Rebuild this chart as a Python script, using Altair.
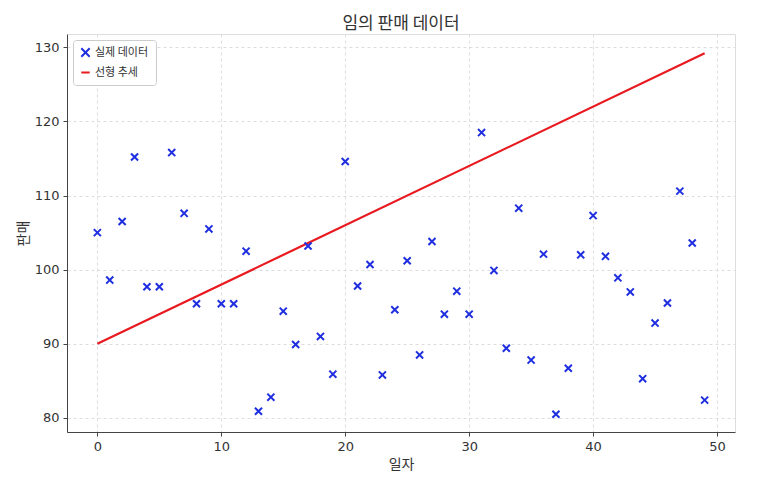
import altair as alt
import pandas as pd

# data
x_vals = list(range(50))
y_vals = [105.0, 98.6, 106.5, 115.2, 97.7, 97.7, 115.8, 107.6, 95.4, 105.5,
          95.4, 95.4, 102.5, 80.9, 82.8, 94.4, 89.9, 103.2, 91.0, 85.9,
          114.6, 97.8, 100.7, 85.8, 94.6, 101.2, 88.5, 103.8, 94.0, 97.1,
          94.0, 118.5, 99.9, 89.4, 108.3, 87.8, 102.1, 80.5, 86.7, 102.0,
          107.3, 101.8, 98.9, 97.0, 85.3, 92.8, 95.5, 110.6, 103.6, 82.4]
trend_x = [0, 49]
trend_y = [90.0, 129.2]

title_text = "임의 판매 데이터"
series_points = "실제 데이터"
series_line = "선형 추세"
x_title = "일자"
y_title = "판매"

pts = pd.DataFrame({"x": x_vals, "y": y_vals, "series": series_points})
line = pd.DataFrame({"x": trend_x, "y": trend_y, "series": series_line})

KFONT = "Noto Sans CJK KR"
x_scale = alt.Scale(domain=[-2.45, 51.45], nice=False, zero=False)
y_scale = alt.Scale(domain=[78.1, 131.8], nice=False, zero=False)
color_scale = alt.Scale(domain=[series_points, series_line], range=["#1f2fe0", "#e8191f"])
shape_scale = alt.Scale(domain=[series_points, series_line],
                        range=["M-1,-1L1,1M1,-1L-1,1", "stroke"])

xax = alt.Axis(title=x_title, values=[0, 10, 20, 30, 40, 50], grid=True,
               gridDash=[3, 3], gridColor="#dddddd", domainColor="#444444",
               tickColor="#444444", tickSize=4, labelFontSize=13,
               labelColor="#333333", titleFont=KFONT, titleFontSize=14,
               titleFontWeight="normal", titleColor="#333333", labelFont="DejaVu Sans",
               titlePadding=4, labelPadding=4)
yax = alt.Axis(title=y_title, values=[80, 90, 100, 110, 120, 130], grid=True,
               gridDash=[3, 3], gridColor="#dddddd", domainColor="#444444",
               tickColor="#444444", tickSize=4, labelFontSize=13,
               labelColor="#333333", titleFont=KFONT, titleFontSize=14,
               titleFontWeight="normal", titleColor="#333333", labelFont="DejaVu Sans",
               titlePadding=4, labelPadding=4)

legend = alt.Legend(title=None, orient="top-left", fillColor="white",
                    strokeColor="#cccccc", cornerRadius=3, padding=7,
                    labelFont=KFONT, labelFontSize=11, labelColor="#333333",
                    symbolSize=70, symbolStrokeWidth=2, offset=6, rowPadding=5)

points = alt.Chart(pts).mark_point(filled=False, strokeWidth=2, size=50, opacity=1).encode(
    x=alt.X("x:Q", scale=x_scale, axis=xax),
    y=alt.Y("y:Q", scale=y_scale, axis=yax),
    color=alt.Color("series:N", scale=color_scale, legend=legend),
    shape=alt.Shape("series:N", scale=shape_scale, legend=legend),
)

trend = alt.Chart(line).mark_line(strokeWidth=2.2).encode(
    x=alt.X("x:Q", scale=x_scale, axis=xax),
    y=alt.Y("y:Q", scale=y_scale, axis=yax),
    color=alt.Color("series:N", scale=color_scale, legend=legend),
)

chart = alt.layer(trend, points).properties(
    width=668, height=398,
    title=alt.TitleParams(title_text, font=KFONT, fontSize=17, fontWeight="normal",
                          color="#333333", anchor="middle", offset=1),
    padding={"left": 8, "top": 7, "right": 5, "bottom": 5},
).configure_view(stroke=None).configure(background="white")

chart.save("out.html", embed_options={"renderer": "svg", "actions": False})
